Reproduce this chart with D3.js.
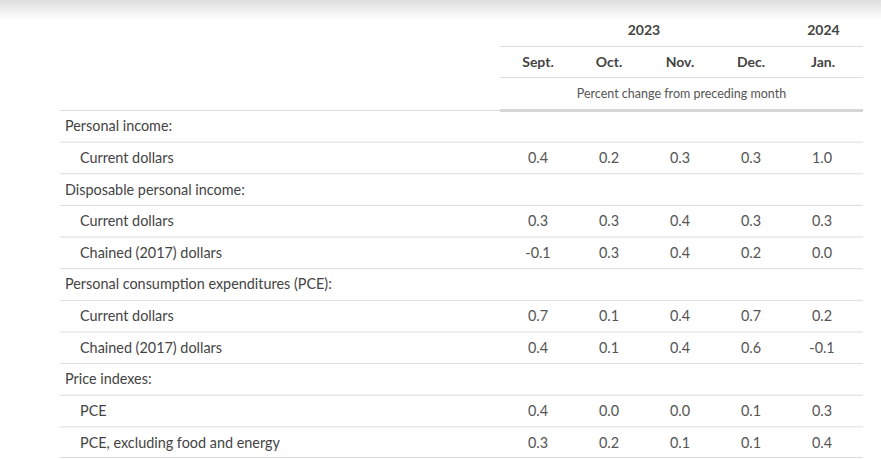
<!DOCTYPE html>
<html>
<head>
<meta charset="utf-8">
<script src="https://cdn.jsdelivr.net/npm/d3@7"></script>
<style>
  html, body { margin: 0; padding: 0; background: #fff; }
  svg { display: block; font-family: Lato, "Open Sans", sans-serif; }
</style>
</head>
<body>
<svg id="chart" width="881" height="459"></svg>
<script>
  // ---- data ----
  const months = ["Sept.", "Oct.", "Nov.", "Dec.", "Jan."];
  const years = [
    { label: "2023", from: "Sept.", to: "Dec." },
    { label: "2024", from: "Jan.", to: "Jan." }
  ];
  const unitNote = "Percent change from preceding month";

  const rowLabels = [
    "Personal income:",
    "Current dollars",
    "Disposable personal income:",
    "Current dollars",
    "Chained (2017) dollars",
    "Personal consumption expenditures (PCE):",
    "Current dollars",
    "Chained (2017) dollars",
    "Price indexes:",
    "PCE",
    "PCE, excluding food and energy"
  ];
  const rowIndent = [0, 1, 0, 1, 1, 0, 1, 1, 0, 1, 1];
  const rowValues = [
    null,
    ["0.4", "0.2", "0.3", "0.3", "1.0"],
    null,
    ["0.3", "0.3", "0.4", "0.3", "0.3"],
    ["-0.1", "0.3", "0.4", "0.2", "0.0"],
    null,
    ["0.7", "0.1", "0.4", "0.7", "0.2"],
    ["0.4", "0.1", "0.4", "0.6", "-0.1"],
    null,
    ["0.4", "0.0", "0.0", "0.1", "0.3"],
    ["0.3", "0.2", "0.1", "0.1", "0.4"]
  ];

  const svg = d3.select("#chart");
  const W = 881;
  const lineColor = "#dcdcdc";

  // top shadow
  const defs = svg.append("defs");
  const grad = defs.append("linearGradient").attr("id", "topShade")
    .attr("x1", 0).attr("y1", 0).attr("x2", 0).attr("y2", 1);
  grad.append("stop").attr("offset", "0%").attr("stop-color", "#dedede");
  grad.append("stop").attr("offset", "100%").attr("stop-color", "#fff");
  svg.append("rect").attr("x", 0).attr("y", 0).attr("width", W).attr("height", 20)
    .attr("fill", "url(#topShade)");

  // scales
  const tableLeft = 60, tableRight = 863, headLeft = 500;
  const x = d3.scalePoint().domain(months).range([538, 822]);
  const y = d3.scaleBand().domain(d3.range(rowLabels.length)).range([110, 458]);

  // header
  const head = svg.append("g").attr("class", "header");
  head.selectAll("text.year")
    .data(years)
    .join("text")
    .attr("class", "year")
    .attr("x", d => (x(d.from) + x(d.to)) / 2 + (d.from === d.to ? 1.5 : -0.5))
    .attr("y", 35)
    .attr("text-anchor", "middle")
    .attr("font-size", 14).attr("font-weight", 700)
    .attr("fill", "#444")
    .text(d => d.label);

  head.append("line")
    .attr("x1", headLeft).attr("x2", tableRight)
    .attr("y1", 46.5).attr("y2", 46.5)
    .attr("stroke", lineColor);

  head.selectAll("text.month")
    .data(months)
    .join("text")
    .attr("class", "month")
    .attr("x", d => x(d) + (d === "Jan." ? 1 : 0))
    .attr("y", 67)
    .attr("text-anchor", "middle")
    .attr("font-size", 14).attr("font-weight", 700)
    .attr("fill", "#444")
    .text(d => d);

  head.append("line")
    .attr("x1", headLeft).attr("x2", tableRight)
    .attr("y1", 77.5).attr("y2", 77.5)
    .attr("stroke", lineColor);

  head.append("text")
    .attr("x", (headLeft + tableRight) / 2)
    .attr("y", 97.5)
    .attr("text-anchor", "middle")
    .attr("font-size", 12.5)
    .attr("fill", "#555")
    .text(unitNote);

  // rule under header: thin on the stub side, thick under the columns
  svg.append("line")
    .attr("x1", tableLeft).attr("x2", headLeft)
    .attr("y1", 110.5).attr("y2", 110.5)
    .attr("stroke", lineColor);
  svg.append("line")
    .attr("x1", headLeft).attr("x2", tableRight)
    .attr("y1", 110.5).attr("y2", 110.5)
    .attr("stroke", "#d6d6d6").attr("stroke-width", 3);

  // body rows
  const rows = svg.append("g").attr("class", "rows")
    .selectAll("g")
    .data(rowLabels.map((label, i) => ({ label, indent: rowIndent[i], values: rowValues[i], i })))
    .join("g")
    .attr("transform", d => `translate(0,${y(d.i)})`);

  rows.filter(d => d.i > 0).append("line")
    .attr("x1", tableLeft).attr("x2", tableRight)
    .attr("y1", 0.5).attr("y2", 0.5)
    .attr("stroke", lineColor);

  rows.filter(d => d.i === rowLabels.length - 1).append("line")
    .attr("x1", tableLeft).attr("x2", tableRight)
    .attr("y1", y.bandwidth() - 0.5).attr("y2", y.bandwidth() - 0.5)
    .attr("stroke", lineColor);

  rows.append("text")
    .attr("x", d => d.indent ? 80 : 65)
    .attr("y", y.bandwidth() / 2 + 5.5)
    .attr("font-size", 14.4)
    .attr("fill", "#444")
    .text(d => d.label);

  rows.filter(d => d.values).selectAll("text.val")
    .data(d => d.values.map((v, j) => ({ v, m: months[j] })))
    .join("text")
    .attr("class", "val")
    .attr("x", d => x(d.m))
    .attr("y", y.bandwidth() / 2 + 5.5)
    .attr("text-anchor", "middle")
    .attr("font-size", 14.4)
    .attr("fill", "#555")
    .text(d => d.v);
</script>
</body>
</html>
